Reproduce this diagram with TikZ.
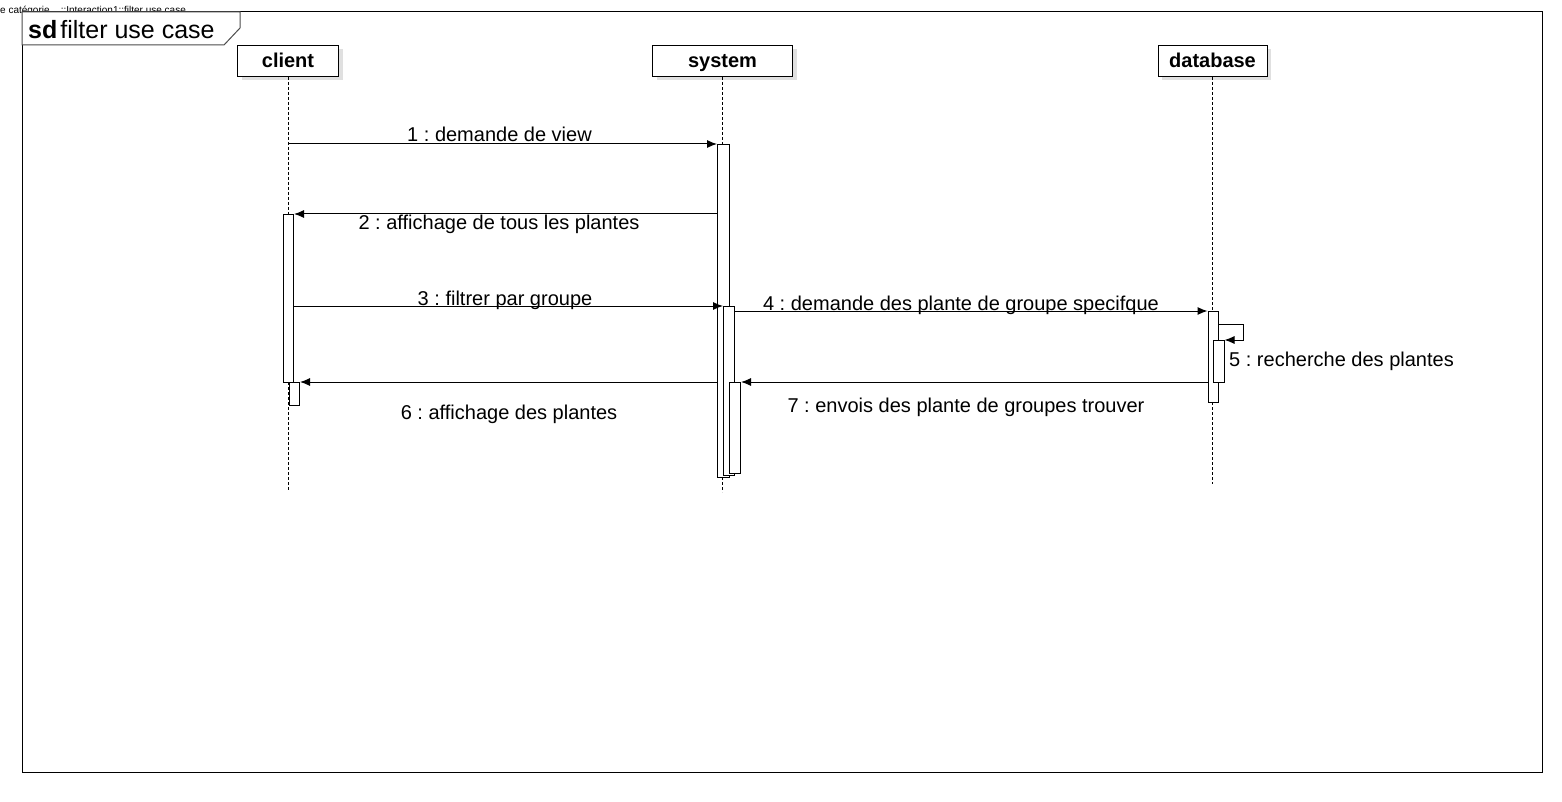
\documentclass[tikz,border=0pt]{standalone}
\usepackage{fontspec}
\setmainfont{Liberation Sans}
\usetikzlibrary{arrows.meta,calc,shadows}
\frenchspacing
\begin{document}
\begin{tikzpicture}[x=1pt,y=-1pt,
  frameline/.style={draw=black, line width=1pt},
  head/.style={draw=black, fill=white, line width=1pt, font=\fontsize{20}{24}\selectfont\bfseries,
    inner sep=0, minimum height=31pt, text height=16pt, text depth=2pt,
    general shadow={fill=black!12, shadow xshift=4pt, shadow yshift=-4pt}},
  lifeline/.style={line width=0.8pt, dash pattern=on 3pt off 2pt},
  act/.style={draw=black, fill=white, line width=1pt, inner sep=0, anchor=north west},
  msg/.style={line width=1pt, -{Latex[length=10pt,width=8pt]}},
  lbl/.style={font=\fontsize{20}{24}\selectfont, inner sep=0, anchor=base}]
\useasboundingbox[fill=white] (0,0) rectangle (1562,802);
% top path text
\node[inner sep=0, anchor=base west, font=\fontsize{10}{10}\selectfont] (path) at (0,14) {e catégorie ...::Interaction1::filter use case};
% frame
\draw[frameline] (22,12) rectangle (1542,772);
\draw[draw=black!70, fill=white, line width=1pt] (22,12) -- (240,12) -- (240,28) -- (224,45) -- (22,45) -- cycle;
\node[inner sep=0, anchor=base west, font=\fontsize{25}{25}\selectfont] (title) at (28,39) {\textbf{sd}\hspace{3pt}filter use case};
% headers
\node[head, minimum width=101pt] (client) at (288,61) {client};
\node[head, minimum width=140pt] (system) at (722.5,61) {system};
\node[head, minimum width=109pt] (database) at (1212.5,61) {database};
% lifelines
\coordinate (clientEnd) at (288,490);
\coordinate (systemEnd) at (722.5,492);
\coordinate (databaseEnd) at (1212.5,484);
\draw[lifeline] (client.south) -- (clientEnd);
\draw[lifeline] (system.south) -- (systemEnd);
\draw[lifeline] (database.south) -- (databaseEnd);
% activations
\node[act, minimum width=10pt, minimum height=168pt] (C1) at (283,214) {};
\node[act, minimum width=10.5pt, minimum height=23pt] (C2) at (288.5,382) {};
\node[act, minimum width=12pt, minimum height=333pt] (A1) at (717,144) {};
\node[act, minimum width=11pt, minimum height=169pt] (A2) at (723,306) {};
\node[act, minimum width=11pt, minimum height=91pt] (A3) at (729,382) {};
\node[act, minimum width=10pt, minimum height=91pt] (D1) at (1207.5,311) {};
\node[act, minimum width=11pt, minimum height=42pt] (D2) at (1212.5,340) {};
% messages
\draw[msg] (client.south |- A1.north west) -- (A1.north west);
\draw[msg] (A1.west |- C1.north east) -- (C1.north east);
\draw[msg] (C1.east |- A2.north west) -- (A2.north west);
\draw[msg] (A2.east |- D1.north west) -- (D1.north west);
\draw[msg] ($(D1.north east)+(0,13)$) -- ++(25,0) |- (D2.north east);
\draw[msg] (A1.west |- C2.north east) -- (C2.north east);
\draw[msg] (D1.west |- A3.north east) -- (A3.north east);
% labels
\node[lbl] (m1) at (499.5,142) {1 : demande de view};
\node[lbl] (m2) at (499,230) {2 : affichage de tous les plantes};
\node[lbl] (m3) at (505,305) {3 : filtrer par groupe};
\node[lbl] (m4) at (961,310) {4 : demande des plante de groupe specifque};
\node[lbl, anchor=base west] (m5) at (1229,366.5) {5 : recherche des plantes};
\node[lbl] (m6) at (509,419) {6 : affichage des plantes};
\node[lbl] (m7) at (966,412.5) {7 : envois des plante de groupes trouver};
\end{tikzpicture}
\end{document}
